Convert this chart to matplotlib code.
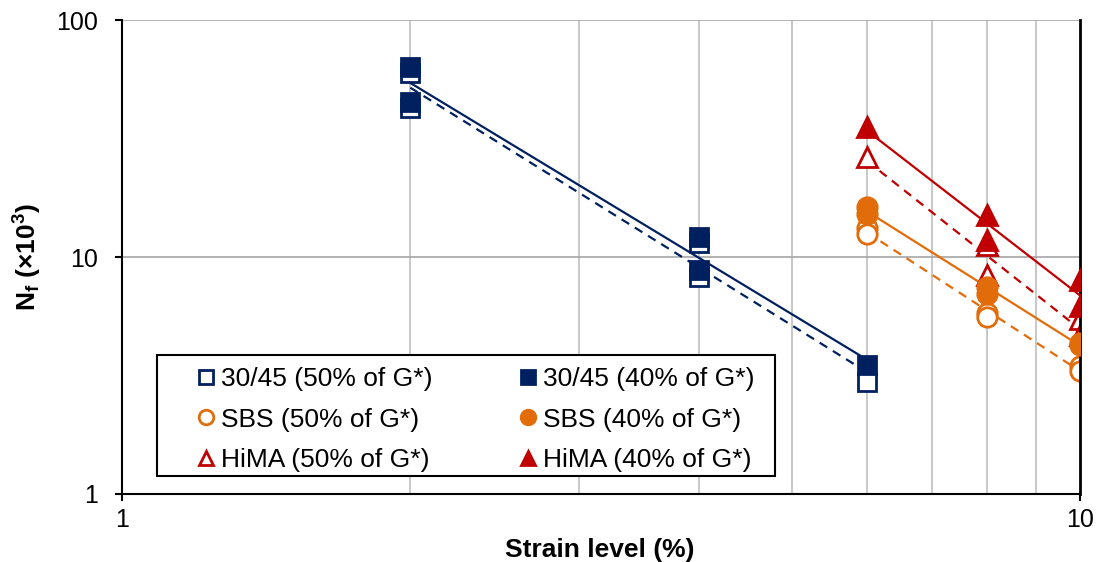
import numpy as np
import matplotlib
matplotlib.use('Agg')
import matplotlib.pyplot as plt
from matplotlib.patches import Rectangle
from matplotlib.ticker import FixedLocator, NullFormatter, FuncFormatter

plt.rcParams['font.family'] = ['Liberation Sans', 'DejaVu Sans']
plt.rcParams['mathtext.fontset'] = 'custom'
plt.rcParams['mathtext.rm'] = 'Liberation Sans:bold'
plt.rcParams['mathtext.default'] = 'rm'

# strain levels (%) and cycles to failure (x1000)
x_3045 = [2, 2, 4, 4, 6]
nf_3045_50 = [59.8, 42.5, 11.5, 8.23, 2.97]
nf_3045_40 = [63.4, 45.1, 12.1, 8.81, 3.50]

x_sbs = [6, 6, 8, 8, 10, 10]
nf_sbs_50 = [13.3, 12.5, 5.80, 5.58, 3.47, 3.30]
nf_sbs_40 = [16.3, 15.2, 7.5, 7.0, 4.35, 4.25]

x_hima = [6, 8, 8, 10, 10]
nf_hima_50 = [26.3, 11.2, 8.4, 5.5, 4.7]
nf_hima_40 = [35.2, 15.0, 11.8, 8.0, 6.2]

navy = '#002060'
orange = '#E36C0A'
red = '#C00000'

series = [
    # label, x, y, colour, marker, filled
    ('30/45 (50% of G*)', x_3045, nf_3045_50, navy, 's', False),
    ('SBS (50% of G*)', x_sbs, nf_sbs_50, orange, 'o', False),
    ('HiMA (50% of G*)', x_hima, nf_hima_50, red, '^', False),
    ('30/45 (40% of G*)', x_3045, nf_3045_40, navy, 's', True),
    ('SBS (40% of G*)', x_sbs, nf_sbs_40, orange, 'o', True),
    ('HiMA (40% of G*)', x_hima, nf_hima_40, red, '^', True),
]

fig = plt.figure(figsize=(11.02, 5.62), dpi=100)
ax = fig.add_axes([0.1107, 0.121, 0.8693, 0.8434])
ax.set_xscale('log')
ax.set_yscale('log')
ax.set_xlim(1, 10)
ax.set_ylim(1, 100)

# grid
for xv in range(2, 10):
    ax.axvline(xv, color='#BFBFBF', lw=1.2, zorder=0)
ax.axhline(10, color='#A6A6A6', lw=1.2, zorder=0)
ax.axhline(100, color='#A6A6A6', lw=1.2, zorder=0)

handles = []
for label, xs, ys, col, mk, filled in series:
    xs = np.array(xs, dtype=float)
    ys = np.array(ys, dtype=float)
    # power-law trend line
    b, a = np.polyfit(np.log10(xs), np.log10(ys), 1)
    xf = np.linspace(xs.min(), xs.max(), 50)
    yf = 10 ** (a + b * np.log10(xf))
    ls = '-' if filled else (0, (4, 3))
    ax.plot(xf, yf, color=col, lw=1.6, linestyle=ls, zorder=2)
    ms = 14 if mk != 's' else 13.5
    h, = ax.plot(xs, ys, linestyle='none', marker=mk, markersize=ms,
                 markerfacecolor=col if filled else 'white',
                 markeredgecolor=col, markeredgewidth=2.0, label=label,
                 zorder=3 if filled else 2.5)
    handles.append(h)

for s in ['left', 'bottom']:
    ax.spines[s].set_linewidth(1.5)
    ax.spines[s].set_color('black')
ax.spines['right'].set_linewidth(2.0)
ax.spines['right'].set_color('black')
ax.spines['top'].set_visible(False)

ax.xaxis.set_major_locator(FixedLocator([1, 10]))
ax.xaxis.set_minor_locator(FixedLocator([]))
ax.yaxis.set_major_locator(FixedLocator([1, 10, 100]))
ax.yaxis.set_minor_locator(FixedLocator([]))
fmt = FuncFormatter(lambda v, p: '%g' % v)
ax.xaxis.set_major_formatter(fmt)
ax.yaxis.set_major_formatter(fmt)
ax.xaxis.set_minor_formatter(NullFormatter())
ax.tick_params(axis='both', which='major', direction='out', length=5,
               width=1.5, labelsize=18)
ax.tick_params(axis='y', pad=12)
ax.tick_params(axis='x', pad=5)

ax.set_xlabel('Strain level (%)', fontsize=19, fontweight='bold')
ax.xaxis.set_label_coords(0.499, -0.092)
ax.set_ylabel(r'N$_{f}$ (×10$^{3}$)', fontsize=19, fontweight='bold', labelpad=9)

# legend box drawn as a plain rectangle, entries placed inside it
ax.add_patch(Rectangle((0.0365, 0.038), 0.645, 0.255, transform=ax.transAxes,
                       facecolor='white', edgecolor='black', lw=1.5, zorder=5))
leg = ax.legend(handles=handles, ncol=2, loc='upper left',
                bbox_to_anchor=(0.0762, 0.268), frameon=False,
                fontsize=19, markerscale=0.75, borderpad=0, borderaxespad=0,
                handlelength=0.8, handletextpad=0.19, columnspacing=3.2,
                labelspacing=0.63)
leg.set_zorder(6)

plt.savefig('out.png', dpi=100)
